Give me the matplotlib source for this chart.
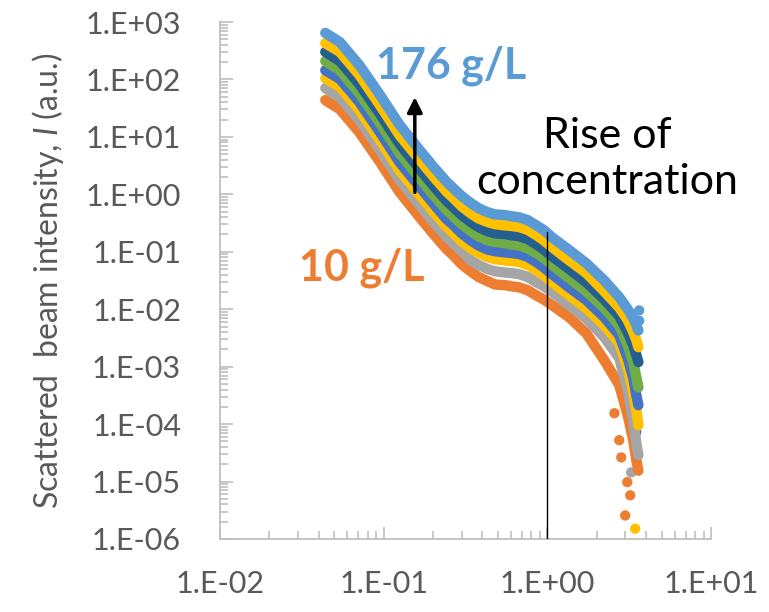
import numpy as np
import matplotlib
matplotlib.use("Agg")
import matplotlib.pyplot as plt
from matplotlib.ticker import LogLocator, FuncFormatter, NullFormatter

plt.rcParams['font.family'] = ['Lato', 'DejaVu Sans']
plt.rcParams['mathtext.fontset'] = 'custom'
plt.rcParams['mathtext.rm'] = 'Lato'
plt.rcParams['mathtext.it'] = 'Lato:italic'

# scattering vector q (shared by all series)
q = [0.044, 0.054, 0.071, 0.095, 0.125, 0.166, 0.20, 0.24, 0.27, 0.30, 0.34, 0.38,
     0.43, 0.48, 0.547, 0.60, 0.675, 0.76, 0.857, 0.95, 1.07, 1.36, 1.73,
     2.23, 2.75, 3.1, 3.35, 3.5, 3.6]

# log10 of scattered intensity (lowest -> highest concentration)
logI_orange = [1.64, 1.48, 1.08, 0.56, 0.04, -0.40, -0.68, -0.94, -1.08, -1.22, -1.34, -1.44,
               -1.51, -1.57, -1.58, -1.60, -1.62, -1.67, -1.76, -1.83, -1.93, -2.14, -2.42,
               -2.89, -3.32, -3.85, -4.28, -4.63, -4.81]
logI_gray = [1.85, 1.69, 1.29, 0.77, 0.25, -0.19, -0.47, -0.73, -0.87, -0.99, -1.15, -1.23,
             -1.30, -1.34, -1.36, -1.37, -1.39, -1.44, -1.53, -1.60, -1.70, -1.93, -2.16,
             -2.49, -2.85, -3.41, -3.93, -4.34, -4.54]
logI_yellow2 = [2.02, 1.87, 1.47, 0.94, 0.42, -0.01, -0.29, -0.55, -0.69, -0.82, -0.94, -1.02,
                -1.09, -1.13, -1.15, -1.16, -1.18, -1.23, -1.32, -1.41, -1.53, -1.76, -1.98,
                -2.28, -2.59, -3.03, -3.45, -3.76, -4.02]
logI_blue = [2.16, 2.01, 1.61, 1.08, 0.56, 0.13, -0.15, -0.42, -0.55, -0.68, -0.80, -0.89,
             -0.96, -0.99, -1.01, -1.02, -1.04, -1.09, -1.18, -1.27, -1.39, -1.62, -1.84,
             -2.14, -2.45, -2.85, -3.20, -3.50, -3.67]
logI_green = [2.32, 2.16, 1.76, 1.24, 0.72, 0.28, 0.00, -0.26, -0.40, -0.52, -0.64, -0.73,
              -0.80, -0.83, -0.85, -0.87, -0.89, -0.94, -1.02, -1.11, -1.23, -1.46, -1.69,
              -1.98, -2.28, -2.63, -2.92, -3.19, -3.36]
logI_dkblue = [2.48, 2.32, 1.92, 1.40, 0.88, 0.44, 0.16, -0.10, -0.24, -0.36, -0.48, -0.57,
               -0.64, -0.68, -0.69, -0.71, -0.73, -0.78, -0.87, -0.96, -1.08, -1.30, -1.53,
               -1.83, -2.12, -2.40, -2.63, -2.80, -2.92]
logI_yellow = [2.63, 2.48, 2.08, 1.55, 1.03, 0.60, 0.32, 0.06, -0.08, -0.21, -0.33, -0.42,
               -0.48, -0.52, -0.54, -0.55, -0.57, -0.62, -0.71, -0.80, -0.92, -1.15, -1.37,
               -1.69, -1.97, -2.19, -2.40, -2.54, -2.66]
logI_ltblue = [2.81, 2.65, 2.25, 1.73, 1.21, 0.77, 0.49, 0.23, 0.09, -0.03, -0.15, -0.24,
               -0.31, -0.35, -0.36, -0.38, -0.40, -0.45, -0.54, -0.62, -0.75, -0.97, -1.20,
               -1.50, -1.79, -2.00, -2.16, -2.28, -2.37]

# noisy points at the high-q end
tail_q = [2.57, 2.75, 2.83, 3.08, 3.21, 2.99, 3.25, 3.44, 3.49, 3.64, 3.64]
tail_logI = [-3.81, -4.28, -4.58, -5.01, -5.24, -5.59, -4.84, -5.82, -4.14, -2.02, -2.20]
tail_color = ['#ED7D31'] * 6 + ['#A5A5A5', '#FFC000', '#4472C4', '#5B9BD5', '#5B9BD5']

series = [
    (logI_orange, '#ED7D31'),
    (logI_gray, '#A5A5A5'),
    (logI_yellow2, '#FFC000'),
    (logI_blue, '#4472C4'),
    (logI_green, '#70AD47'),
    (logI_dkblue, '#255E91'),
    (logI_yellow, '#FFC000'),
    (logI_ltblue, '#5B9BD5'),
]

fig = plt.figure(figsize=(7.69, 6.12), dpi=100)
ax = fig.add_axes([220 / 769, 1 - 539 / 612, 491 / 769, 517 / 612])

ax.scatter(tail_q, 10 ** np.array(tail_logI), s=55, c=tail_color, linewidths=0, zorder=2)
for vals, col in series:
    ax.plot(q, 10 ** np.array(vals), color=col, lw=7.5, solid_capstyle='round',
            solid_joinstyle='round', zorder=3)

ax.set_xscale('log')
ax.set_yscale('log')
ax.set_xlim(0.01, 10)
ax.set_ylim(1e-6, 1e3)

fmt = FuncFormatter(lambda v, p: "1.E{:+03d}".format(int(round(np.log10(v)))))
ax.xaxis.set_major_formatter(fmt)
ax.yaxis.set_major_formatter(fmt)
ax.xaxis.set_major_locator(LogLocator(base=10, numticks=10))
ax.yaxis.set_major_locator(LogLocator(base=10, numticks=12))
ax.xaxis.set_minor_locator(LogLocator(base=10, subs=range(2, 10), numticks=20))
ax.yaxis.set_minor_locator(LogLocator(base=10, subs=range(2, 10), numticks=20))
ax.xaxis.set_minor_formatter(NullFormatter())
ax.yaxis.set_minor_formatter(NullFormatter())

ax.tick_params(which='both', direction='in', color='#BFBFBF', width=1.2,
               labelsize=22, labelcolor='#595959')
ax.tick_params(which='major', length=9)
ax.tick_params(which='minor', length=6)
ax.tick_params(axis='y', which='both', pad=28)
ax.tick_params(axis='x', which='both', pad=22)

for s in ['top', 'right']:
    ax.spines[s].set_visible(False)
for s in ['left', 'bottom']:
    ax.spines[s].set_color('#BFBFBF')
    ax.spines[s].set_linewidth(1.3)

ax.set_ylabel(r'Scattered  beam intensity, $\mathit{I}$ (a.u.)', fontsize=23,
              color='#595959', labelpad=14)

# annotations
ax.plot([1.0, 1.0], [1e-6, 0.22], color='black', lw=1, zorder=4)
ax.annotate('', xy=(0.155, 55), xytext=(0.155, 0.97),
            arrowprops=dict(arrowstyle='-|>,head_length=0.9,head_width=0.45',
                            color='black', lw=2.5))
fig.text(451 / 769, 1 - 66 / 612, '176 g/L', color='#5B9BD5', fontsize=31,
         fontweight='bold', ha='center', va='center')
fig.text(362 / 769, 1 - 268 / 612, '10 g/L', color='#ED7D31', fontsize=31,
         fontweight='bold', ha='center', va='center')
fig.text(607 / 769, 1 - 159 / 612, 'Rise of\nconcentration', color='black',
         fontsize=31, ha='center', va='center', linespacing=1.25)

fig.savefig('out.png', dpi=100)
